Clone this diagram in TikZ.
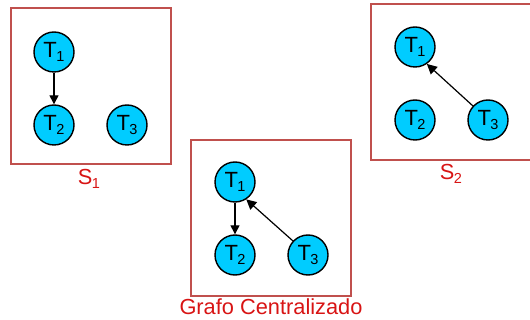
\documentclass[tikz,border=0pt]{standalone}
\usepackage{fontspec}
\setmainfont{Liberation Sans}
\usetikzlibrary{arrows.meta}
\definecolor{framered}{HTML}{C0504D}
\definecolor{labelred}{HTML}{D81414}
\definecolor{taskblue}{HTML}{00CCFF}
\tikzset{
  x=1pt,y=-1pt,
  frame/.style={rectangle,draw=framered,line width=1.5pt,fill=none,minimum width=160pt,minimum height=156pt,inner sep=0pt},
  task/.style={circle,draw=black,line width=1.4pt,fill=taskblue,minimum size=40pt,inner sep=0pt,font=\fontsize{22}{22}\selectfont,text=black},
  lbl/.style={font=\fontsize{21.8}{22}\selectfont,text=labelred,inner sep=0pt},
  dep/.style={draw=black,line width=1.4pt,-{Triangle[length=9pt,width=9pt]}},
  depthin/.style={draw=black,line width=1.2pt,-{Triangle[length=10pt,width=10pt]}},
}
\newcommand{\tsub}[2]{#1\kern-0.5pt\raisebox{-4.5pt}{\fontsize{14.5}{14.5}\selectfont #2}}
\begin{document}
\begin{tikzpicture}
\useasboundingbox (0,0) rectangle (530,320);
% S1
\node[frame] (b1) at (91,86) {};
\node[task] (a1) at (54,52) {\tsub{T}{1}};
\node[task] (a2) at (54,125) {\tsub{T}{2}};
\node[task] (a3) at (127,125) {\tsub{T}{3}};
\draw[dep] (a1) -- (a2);
\node[lbl] (l1) at (89,179) {\tsub{S}{1}};
% Centralizado
\node[frame] (b2) at (271,218) {};
\node[task] (c1) at (235,182) {\tsub{T}{1}};
\node[task] (c2) at (235,255) {\tsub{T}{2}};
\node[task] (c3) at (308,255) {\tsub{T}{3}};
\draw[dep] (c1) -- (c2);
\draw[depthin] (c3.137) -- (c1.-57);
\node[lbl] (l2) at (271,307) {Grafo Centralizado};
% S2
\node[frame] (b3) at (451,82) {};
\node[task] (d1) at (415,47) {\tsub{T}{1}};
\node[task] (d2) at (415,120) {\tsub{T}{2}};
\node[task] (d3) at (488,120) {\tsub{T}{3}};
\draw[depthin] (d3.137) -- (d1.-55);
\node[lbl] (l3) at (451,174) {\tsub{S}{2}};
\end{tikzpicture}
\end{document}
